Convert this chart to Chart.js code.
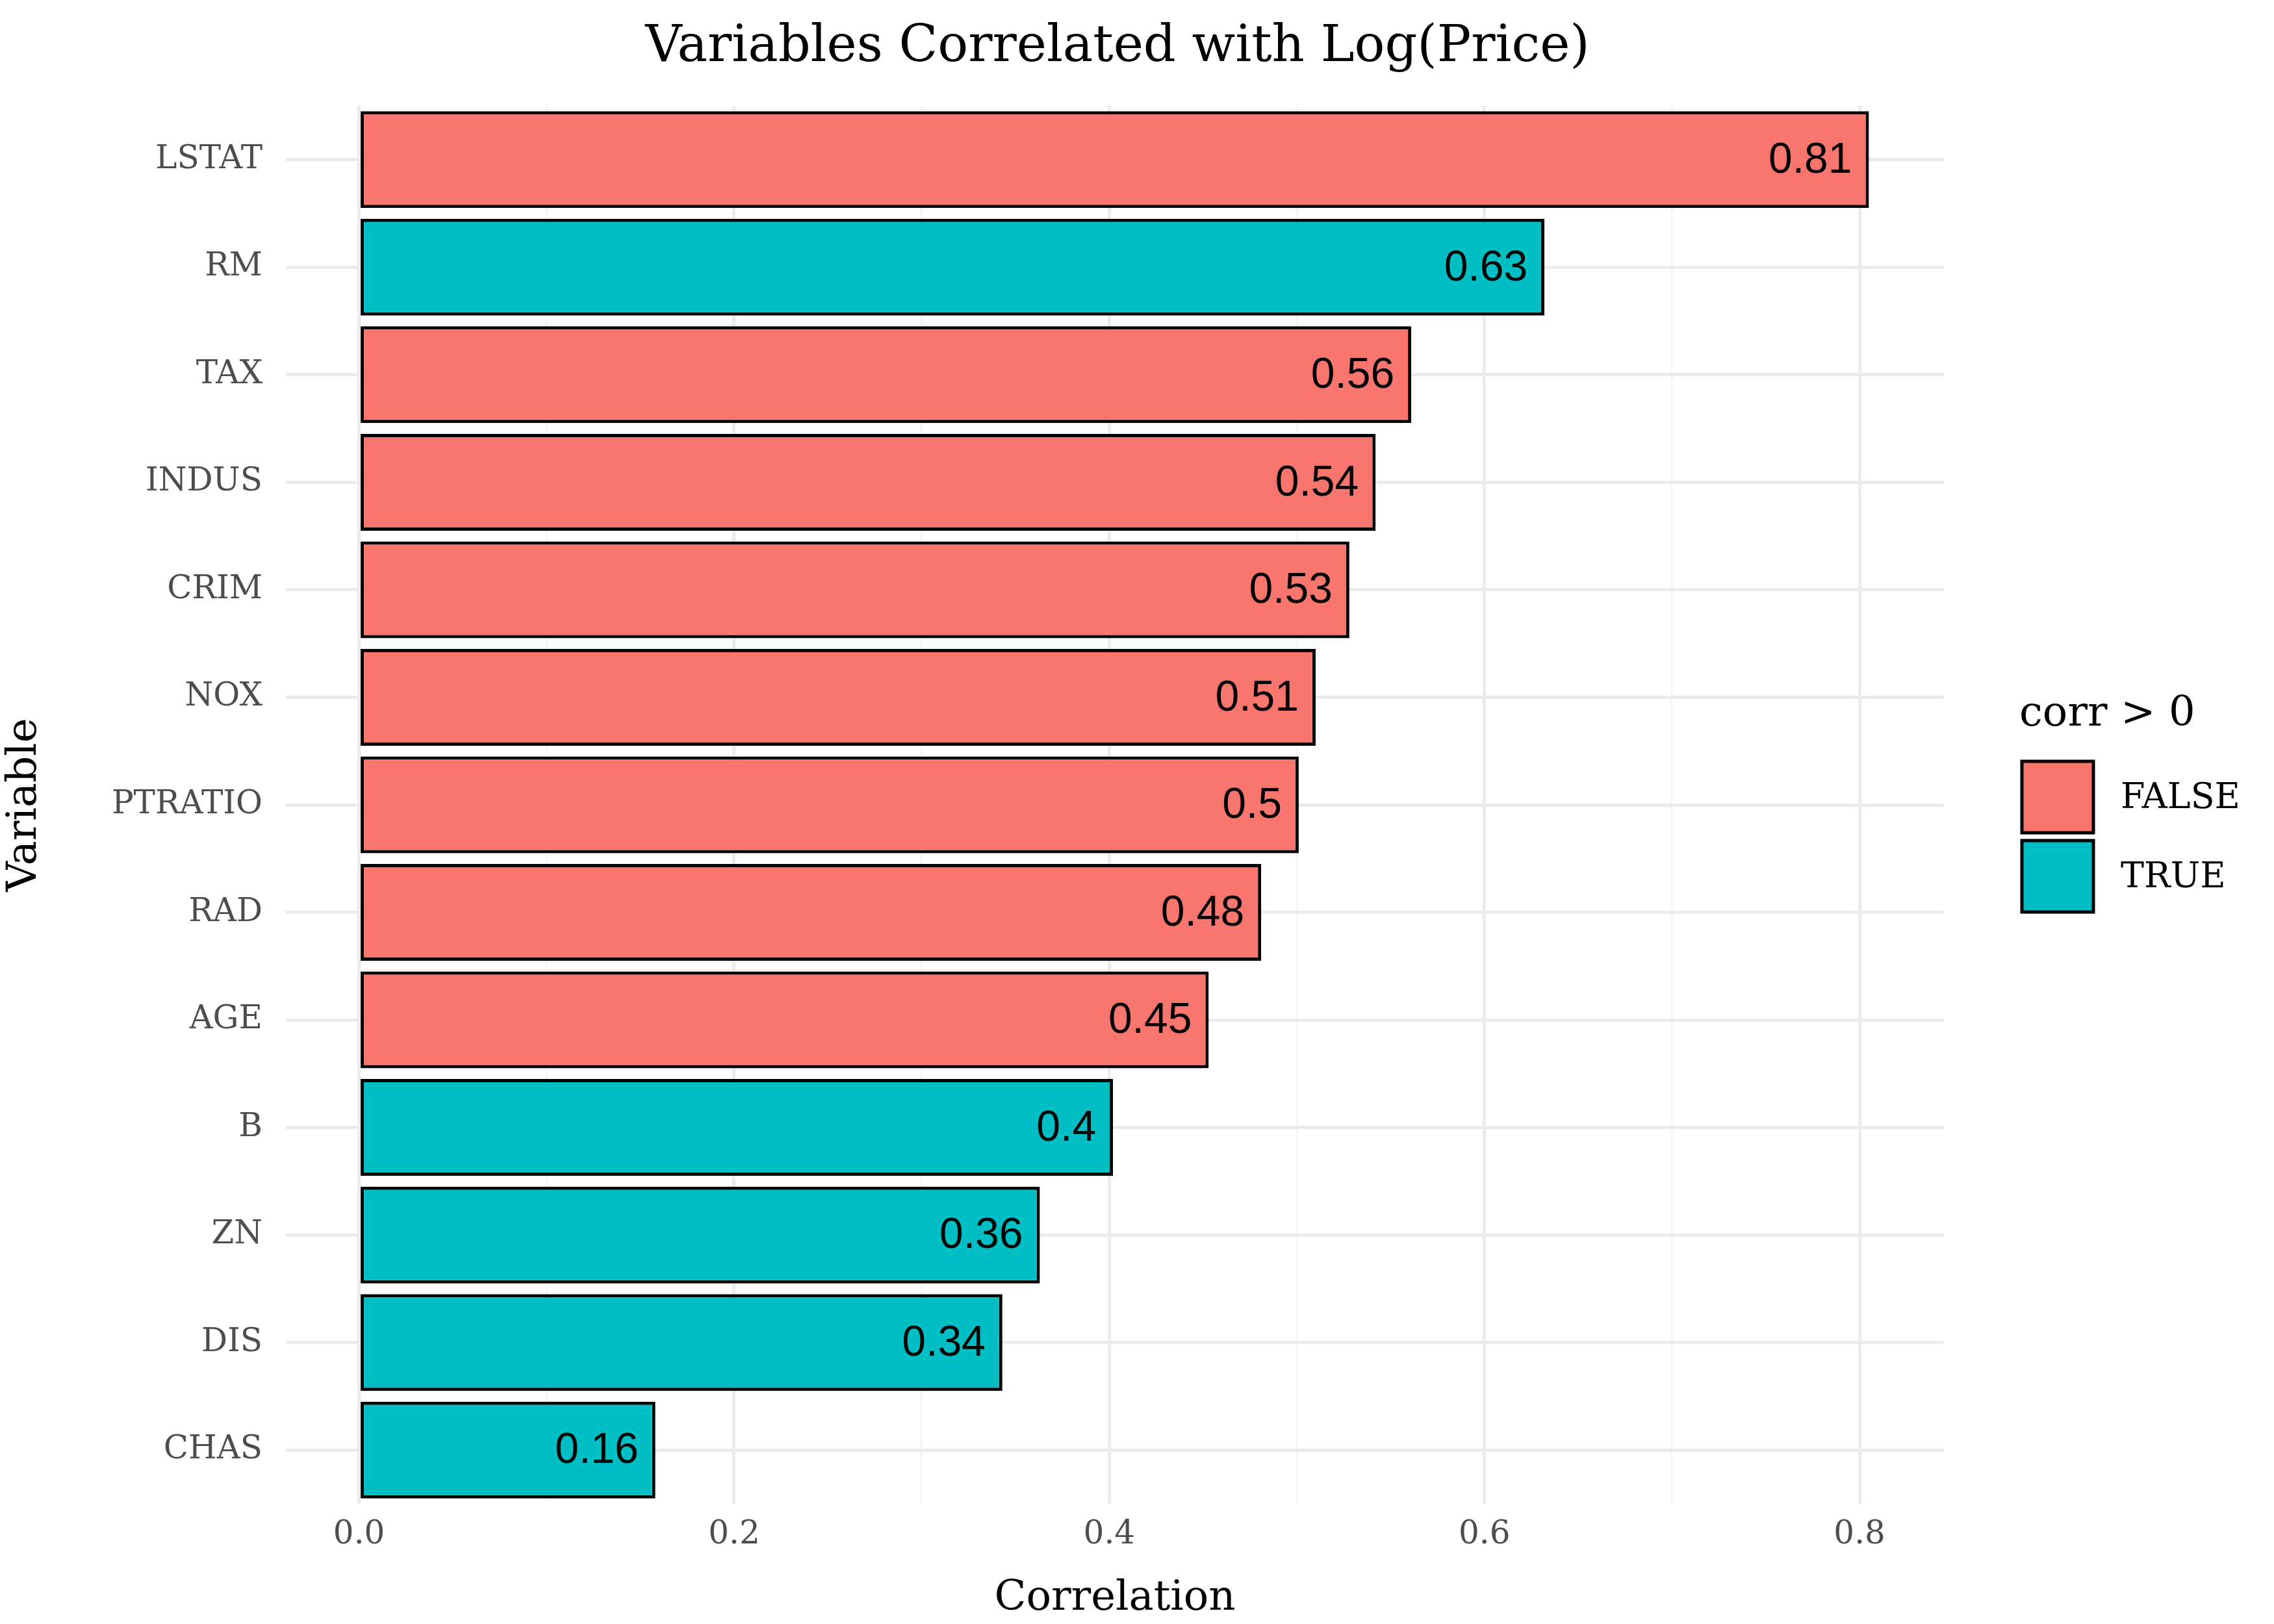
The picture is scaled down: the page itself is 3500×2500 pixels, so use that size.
<!DOCTYPE html>
<html>
<head>
<meta charset="utf-8">
<script src="https://cdn.jsdelivr.net/npm/chart.js@4.4.1/dist/chart.umd.min.js"></script>
<style>
  html, body { margin: 0; padding: 0; background: #fff; }
  #wrap { width: 3500px; height: 2500px; }
</style>
</head>
<body>
<div id="wrap"><canvas id="corrChart" width="3500" height="2500"></canvas></div>
<script>
const variables = ['LSTAT', 'RM', 'TAX', 'INDUS', 'CRIM', 'NOX', 'PTRATIO', 'RAD', 'AGE', 'B', 'ZN', 'DIS', 'CHAS'];
const correlations = [0.805, 0.632, 0.561, 0.542, 0.528, 0.510, 0.501, 0.481, 0.453, 0.402, 0.363, 0.343, 0.158];
const positive = [false, true, false, false, false, false, false, false, false, true, true, true, true];
const valueLabels = ['0.81', '0.63', '0.56', '0.54', '0.53', '0.51', '0.5', '0.48', '0.45', '0.4', '0.36', '0.34', '0.16'];
const xTicks = [0, 0.1, 0.2, 0.3, 0.4, 0.5, 0.6, 0.7, 0.8];

const RED = '#F8766D';
const TEAL = '#00BFC4';
const SERIF = '"DejaVu Serif", serif';

// labels inside bars, title and legend
const extras = {
  id: 'extras',
  afterDatasetsDraw(chart) {
    const c = chart.ctx;
    const meta = chart.getDatasetMeta(0);
    c.save();
    c.fillStyle = '#000';
    c.font = '66px "Liberation Sans", Arial, sans-serif';
    c.textAlign = 'right';
    c.textBaseline = 'middle';
    meta.data.forEach((bar, i) => {
      c.fillText(valueLabels[i], bar.x - 26, bar.y + 2);
    });

    c.font = '78px ' + SERIF;
    c.textAlign = 'center';
    c.fillText('Variables Correlated with Log(Price)', 1720, 74);

    // legend
    c.textAlign = 'left';
    c.font = '64px ' + SERIF;
    c.fillText('corr > 0', 3108, 1100);
    const items = [['FALSE', RED], ['TRUE', TEAL]];
    items.forEach((it, k) => {
      const y = 1172 + k * 122;
      c.fillStyle = it[1];
      c.fillRect(3112, y, 110, 110);
      c.lineWidth = 5;
      c.strokeStyle = '#000';
      c.strokeRect(3112, y, 110, 110);
      c.fillStyle = '#000';
      c.font = '54px ' + SERIF;
      c.fillText(it[0], 3264, y + 58);
    });
    c.restore();
  }
};

new Chart(document.getElementById('corrChart'), {
  type: 'bar',
  data: {
    labels: variables,
    datasets: [{
      data: correlations,
      backgroundColor: positive.map(p => p ? TEAL : RED),
      borderColor: '#000',
      borderWidth: 5,
      borderSkipped: false,
      categoryPercentage: 0.9,
      barPercentage: 1
    }]
  },
  options: {
    indexAxis: 'y',
    responsive: false,
    animation: false,
    devicePixelRatio: 1,
    layout: { padding: { top: 163, right: 508, left: 0, bottom: 0 } },
    plugins: { legend: { display: false }, tooltip: { enabled: false } },
    scales: {
      x: {
        min: -0.039,
        max: 0.845,
        afterBuildTicks: axis => { axis.ticks = xTicks.map(v => ({ value: v })); },
        afterFit: axis => { axis.height = 185; },
        border: { display: false },
        grid: {
          color: ctx => Math.round(ctx.tick.value * 10) % 2 === 0 ? '#ebebeb' : '#f3f3f3',
          lineWidth: ctx => Math.round(ctx.tick.value * 10) % 2 === 0 ? 5 : 2.5,
          drawTicks: false
        },
        ticks: {
          padding: 18,
          color: '#4d4d4d',
          font: { family: SERIF, size: 50 },
          callback: v => Math.round(v * 10) % 2 === 0 ? v.toFixed(1) : ''
        },
        title: {
          display: true,
          text: 'Correlation',
          color: '#000',
          font: { family: SERIF, size: 64 },
          padding: { top: 6, bottom: 0 }
        }
      },
      y: {
        afterFit: axis => { axis.width = 440; },
        border: { display: false },
        grid: { offset: false, color: '#ebebeb', lineWidth: 5, drawTicks: false },
        ticks: {
          padding: 36,
          color: '#4d4d4d',
          font: { family: SERIF, size: 50 }
        },
        title: {
          display: true,
          text: 'Variable',
          color: '#000',
          font: { family: SERIF, size: 64 },
          padding: { top: 0, bottom: 0 }
        }
      }
    }
  },
  plugins: [extras]
});
</script>
</body>
</html>
